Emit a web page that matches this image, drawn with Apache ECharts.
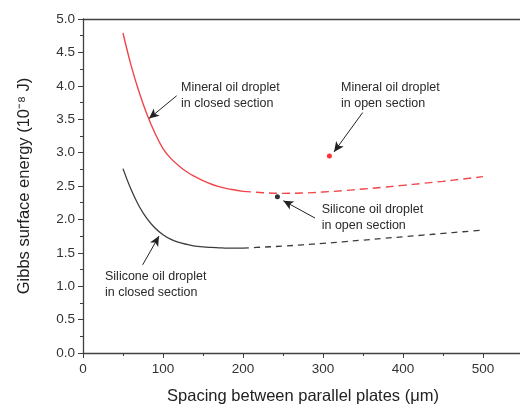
<!DOCTYPE html>
<html>
<head>
<meta charset="utf-8">
<script src="https://cdn.jsdelivr.net/npm/echarts@6/dist/echarts.min.js"></script>
<style>
  html, body { margin: 0; padding: 0; background: #fff; overflow: hidden; }
  #chart { width: 560px; height: 407px; }
</style>
</head>
<body>
<div id="chart"></div>
<script>
// spacing (um) and Gibbs surface energy (1e-8 J)
const closedSpacing = [50, 60, 70, 80, 90, 100, 110, 120, 130, 140, 150, 160, 170, 180, 190, 200];
const mineralClosed = [4.79, 4.31, 3.91, 3.57, 3.29, 3.06, 2.91, 2.80, 2.71, 2.64, 2.58, 2.53, 2.49, 2.46, 2.44, 2.42];
const siliconeClosed = [2.76, 2.45, 2.20, 2.01, 1.87, 1.77, 1.70, 1.655, 1.625, 1.60, 1.59, 1.58, 1.575, 1.57, 1.57, 1.57];

const openSpacing = [200, 225, 250, 275, 300, 325, 350, 375, 400, 425, 450, 475, 500];
const mineralOpen = [2.42, 2.40, 2.39, 2.395, 2.41, 2.43, 2.455, 2.48, 2.51, 2.54, 2.57, 2.605, 2.64];
const siliconeOpen = [1.57, 1.585, 1.60, 1.62, 1.64, 1.665, 1.69, 1.715, 1.74, 1.765, 1.79, 1.815, 1.84];

// single measured droplets
const mineralPoint = [308, 2.95];
const siliconePoint = [243, 2.34];

const xTicks = [0, 100, 200, 300, 400, 500];
const yTicks = [0.0, 0.5, 1.0, 1.5, 2.0, 2.5, 3.0, 3.5, 4.0, 4.5, 5.0];

// annotation texts: [x, y] of text top-left, arrow start, arrow end (data units)
const notes = [
    { text: 'Mineral oil droplet\nin closed section', at: [122.5, 4.10], from: [117, 3.85], to: [82.5, 3.51] },
    { text: 'Mineral oil droplet\nin open section', at: [322.5, 4.10], from: [349.6, 3.60], to: [313.8, 3.01] },
    { text: 'Silicone oil droplet\nin open section', at: [298.4, 2.26], from: [290, 2.02], to: [250.4, 2.28] },
    { text: 'Silicone oil droplet\nin closed section', at: [27.5, 1.27], from: [74.6, 1.32], to: [95, 1.75] }
];

const zip = (xs, ys) => xs.map((x, i) => [x, ys[i]]);

const RED = '#f0454a';
const DARK = '#3c3c3c';
const FONT = 'Liberation Sans';

const chart = echarts.init(document.getElementById('chart'));

const axisCommon = {
    axisLine: { show: true, lineStyle: { color: '#404040', width: 1.3 } },
    axisTick: { show: true, length: 5, lineStyle: { color: '#404040' } },
    minorTick: { show: true, splitNumber: 2, length: 3, lineStyle: { color: '#404040' } },
    splitLine: { show: false },
    axisLabel: { color: '#333', fontFamily: FONT, fontSize: 13.5 },
    nameTextStyle: { color: '#222', fontFamily: FONT, fontSize: 16.5 }
};

const curve = { smooth: 0.4, showSymbol: false };

// the page is 520 wide; the frame runs on past the right edge as in the source
chart.setOption({
    animation: false,
    grid: {
        left: 83, top: 19, width: 440, height: 334,
        outerBoundsMode: 'none'
    },
    xAxis: [
        Object.assign({}, axisCommon, {
            type: 'value',
            min: 0, max: 550, interval: 100,
            name: 'Spacing between parallel plates (\u03bcm)',
            nameLocation: 'middle', nameGap: 35,
            axisLabel: Object.assign({}, axisCommon.axisLabel, {
                margin: 9, showMaxLabel: false,
                formatter: v => xTicks.includes(v) ? String(v) : ''
            })
        }),
        {
            type: 'value', position: 'top', min: 0, max: 550,
            axisLine: { show: true, lineStyle: { color: '#404040', width: 1.3 } },
            axisTick: { show: false }, axisLabel: { show: false }, splitLine: { show: false }
        }
    ],
    yAxis: Object.assign({}, axisCommon, {
        type: 'value',
        min: 0, max: 5, interval: 0.5,
        name: 'Gibbs surface energy (10\u207b\u2078 J)',
        nameLocation: 'middle', nameGap: 50,
        axisLabel: Object.assign({}, axisCommon.axisLabel, {
            margin: 8,
            formatter: v => yTicks.includes(v) ? v.toFixed(1) : ''
        })
    }),
    series: [
        Object.assign({}, curve, {
            type: 'line', data: zip(closedSpacing, mineralClosed),
            lineStyle: { color: RED, width: 1.4 },
            markLine: {
                silent: true, symbol: ['none', 'arrow'], symbolSize: [7, 10],
                lineStyle: { color: '#222', width: 1, type: 'solid' },
                label: { show: false },
                data: notes.map(n => [{ coord: n.from }, { coord: n.to }])
            },
            markPoint: {
                silent: true, symbol: 'circle', symbolSize: 0,
                data: notes.map(n => ({
                    coord: n.at,
                    label: {
                        show: true, formatter: n.text, position: [0, 0],
                        align: 'left', verticalAlign: 'top',
                        color: '#2a2a2a', fontFamily: FONT, fontSize: 12.5, lineHeight: 16
                    }
                }))
            }
        }),
        Object.assign({}, curve, {
            type: 'line', data: zip(openSpacing, mineralOpen),
            lineStyle: { color: RED, width: 1.4, type: [8, 5] }
        }),
        Object.assign({}, curve, {
            type: 'line', data: zip(closedSpacing, siliconeClosed),
            lineStyle: { color: DARK, width: 1.3 }
        }),
        Object.assign({}, curve, {
            type: 'line', data: zip(openSpacing, siliconeOpen),
            lineStyle: { color: DARK, width: 1.3, type: [6, 5] }
        }),
        {
            type: 'scatter', data: [mineralPoint], symbolSize: 5,
            itemStyle: { color: '#ff0000' }
        },
        {
            type: 'scatter', data: [siliconePoint], symbolSize: 5,
            itemStyle: { color: '#000' }
        }
    ]
});
</script>
</body>
</html>
